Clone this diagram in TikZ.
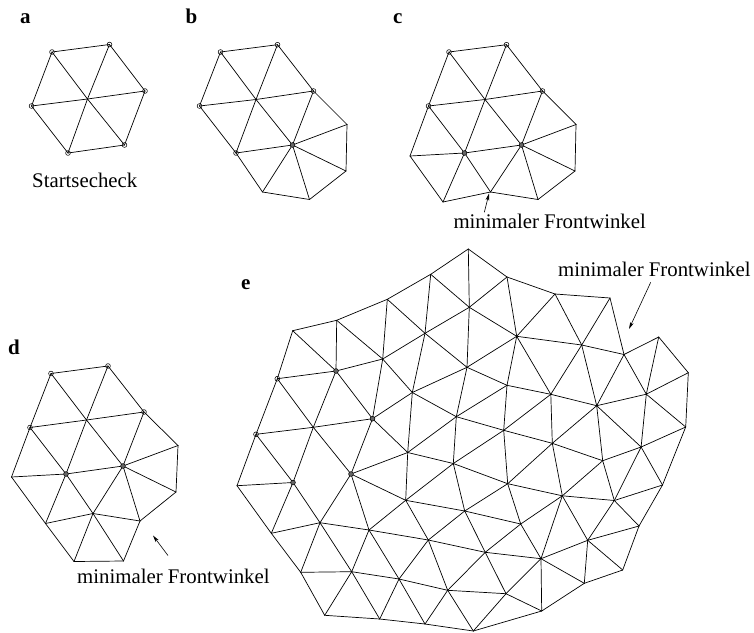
\documentclass[tikz,border=0pt]{standalone}
\usepackage{fontspec}
\setmainfont{Liberation Serif}
\usetikzlibrary{arrows.meta}
\tikzset{
  edgeline/.style={draw=black,line width=0.7pt,line cap=round,line join=round},
  openmark/.style={circle,draw=black,line width=0.55pt,inner sep=0pt,minimum size=4.8pt},
  darkmark/.style={circle,draw=black,fill=black!60,line width=0.55pt,inner sep=0pt,minimum size=4.8pt},
  caption/.style={anchor=base west,inner sep=0pt,font=\fontsize{20.8}{22}\selectfont},
  panellabel/.style={anchor=base west,inner sep=0pt,font=\fontsize{21}{22}\selectfont\bfseries},
  pointer/.style={draw=black,line width=0.6pt,-{Stealth[length=7pt,width=3.6pt,inset=2pt]}}
}
\begin{document}
\begin{tikzpicture}[x=1pt,y=-1pt]
\useasboundingbox (0,0) rectangle (754,632);
% ---------- panel a
\foreach \n/\x/\y in {TL/52/52,TR/109.5/44.5,R/145/91,BR/124.5/145,BL/68/153,L/31.5/106,c/87.5/99}
  \coordinate (a\n) at (\x,\y);
\foreach \p/\q in {TL/TR,TR/R,R/BR,BR/BL,BL/L,L/TL,TL/c,TR/c,R/c,BR/c,BL/c,L/c}
  \draw[edgeline] (a\p) -- (a\q);
\foreach \n in {TL,TR,R,BR,BL,L} \node[openmark] (am\n) at (a\n) {};
\node[caption] (acap) at (32,187.5) {Startsecheck};
\node[panellabel] (alab) at (20,23.5) {a};
% ---------- panel b
\foreach \n/\x/\y in {TL/220.5/52,TR/277.5/44.7,R/313.5/91,c/256/99.5,L/199.5/106,BL/236/153,P/292.5/145,Q/347/124.5,S/346/171,T/309.5/199.5,U/262.5/192}
  \coordinate (b\n) at (\x,\y);
\foreach \p/\q in {TL/TR,TR/R,TL/L,L/BL,TL/c,c/P,TR/c,c/BL,L/c,c/R,BL/P,R/P,R/Q,Q/P,Q/S,S/P,S/T,T/P,T/U,U/P,U/BL}
  \draw[edgeline] (b\p) -- (b\q);
\foreach \n in {TL,TR,R,L,BL} \node[openmark] (bm\n) at (b\n) {};
\node[darkmark] (bmP) at (bP) {};
\node[panellabel] (blab) at (185.5,23.5) {b};
% ---------- panel c
\foreach \n/\x/\y in {TL/449/52,TR/506.5/44.7,R/542.5/91,c/485/99.5,L/428.5/106,BL/464.5/153,P/521.5/145,Q/576/124.5,S/575/171,T/538/199.5,U/490.5/192,V/443/202,W/410/156}
  \coordinate (c\n) at (\x,\y);
\foreach \p/\q in {TL/TR,TR/R,TL/L,TL/c,c/P,TR/c,c/BL,L/c,c/R,BL/P,R/P,R/Q,Q/P,Q/S,S/P,S/T,T/P,T/U,U/P,U/BL,U/V,V/BL,V/W,W/BL,W/L,L/BL}
  \draw[edgeline] (c\p) -- (c\q);
\foreach \n in {TL,TR,R,L} \node[openmark] (cm\n) at (c\n) {};
\foreach \n in {BL,P} \node[darkmark] (cm\n) at (c\n) {};
\coordinate (cfrom) at (484.3,212.3);
\coordinate (cto) at (489,193.5);
\draw[pointer] (cfrom) -- (cto);
\node[caption] (ccap) at (453.3,228.4) {minimaler Frontwinkel};
\node[panellabel] (clab) at (393,23.5) {c};
% ---------- panel d
\foreach \n/\x/\y in {TL/51/373.5,TR/108/366,R/144/412,c/86.5/420,L/30/427.5,BL/66/474,P/123/466,Q/178/445.5,S/176/492,T/140/521,U/93/513.5,V/45.5/523.5,W/11.5/477,X/74/561.5,Y/123.5/561}
  \coordinate (d\n) at (\x,\y);
\foreach \p/\q in {TL/TR,TR/R,TL/L,TL/c,c/P,TR/c,c/BL,L/c,c/R,BL/P,R/P,R/Q,Q/P,Q/S,S/P,S/T,T/P,T/U,U/P,U/BL,U/V,V/BL,V/W,W/BL,W/L,L/BL,U/X,U/Y,V/X,X/Y,Y/T}
  \draw[edgeline] (d\p) -- (d\q);
\foreach \n in {TL,TR,R,L} \node[openmark] (dm\n) at (d\n) {};
\foreach \n in {BL,P} \node[darkmark] (dm\n) at (d\n) {};
\coordinate (dfrom) at (168,555.5);
\coordinate (dto) at (153,535.5);
\draw[pointer] (dfrom) -- (dto);
\node[caption] (dcap) at (77,583) {minimaler Frontwinkel};
\node[panellabel] (dlab) at (8,354) {d};
% ---------- panel e
\foreach \n/\x/\y in {
 E1/292.7/330.7,E2/336.7/320.3,E3/387.3/299.3,E4/430.7/274.3,E5/468.3/249,E6/507/277,E7/555/294,E8/610/298,
 E9/624/354.5,E10/658.7/337,E11/688.3/372.7,E12/685.7/427,E13/662.5/485,E14/639/526,E15/622.7/570,E16/584.3/583.3,
 E17/541.7/611,E18/473.3/631,E19/425/624,E20/379.7/619,E21/324.7/615.3,X/300.7/572.3,V/271.3/533.3,W/237/485.7,
 L/256/434.3,TL/277.3/378.7,TR/336/371,R/372.5/418.7,c/313.3/427.3,BL/293/482.5,P/351/474,
 N1/382.7/359,N2/425/333.3,N3/469.3/307.3,N4/412.3/392.5,N5/467/367.3,N6/456.3/416.7,N7/507/385.3,N8/503.7/430.3,
 N9/407.7/452.5,N10/453.3/463.5,N11/507.7/483.7,N12/405.7/500.3,N13/516.7/336.3,N14/581.7/345,N15/550.8/394.3,
 N16/596.7/405.7,N17/646.3/394.2,N18/552.3/443.3,N19/641.1/447,N20/602.7/460.7,N21/562.3/495.8,N22/614.3/500.5,
 N23/520.7/524,N24/587.7/540.3,N25/541/558.7,N26/485.2/552.3,N27/506/593.7,N28/464.7/511,U/320/522.7,N30/369/530,
 N31/428.3/540,N32/351.7/571.7,N33/399/579,N34/447.7/590.3}
  \coordinate (e\n) at (\x,\y);
\foreach \p/\q in {
 E1/E2,E2/E3,E3/E4,E4/E5,E5/E6,E6/E7,E7/E8,E8/E9,E9/E10,E10/E11,E11/E12,E12/E13,E13/E14,E14/E15,E15/E16,E16/E17,E17/E18,E18/E19,E19/E20,E20/E21,E21/X,X/V,V/W,W/L,L/TL,TL/E1,
 E1/TR,E2/TR,E2/N1,E3/N1,E3/N2,E4/N2,E4/N3,E5/N3,N3/E6,N1/N2,N2/N3,TL/TR,TR/N1,N1/R,N1/N4,N2/N4,N2/N5,N3/N5,N3/N13,R/N4,N4/N5,N4/N6,N5/N6,N5/N7,N6/N7,
 TR/c,TR/R,TL/c,c/R,c/L,c/BL,c/P,L/BL,R/P,W/BL,
 N4/N9,R/N9,N9/N6,N6/N10,N9/N10,N9/P,P/N12,N9/N12,N10/N12,N6/N8,N7/N8,N8/N10,N10/N11,N8/N11,N8/N18,N7/N15,N8/N15,N11/N18,N11/N21,N11/N23,N10/N28,P/U,P/N30,N7/N13,N5/N13,N13/N15,
 N13/E6,N13/E7,E7/N14,E8/N14,N13/N14,N14/E9,N14/N15,N14/N16,E9/N16,E9/N17,E10/N17,E11/N17,N17/N16,N15/N16,N15/N18,N16/N18,N16/N19,N16/N20,N17/N19,N17/E12,
 N19/E12,N19/N20,N18/N20,N20/N21,N18/N21,N20/N22,N19/N22,N19/E13,N22/E13,N21/N22,
 N21/N23,N21/N25,N23/N25,N21/N24,N22/N24,N22/E14,N24/E14,N24/N25,N24/E16,N24/E15,N25/E16,N25/E17,N25/N26,N25/N27,N26/N27,N27/E17,N27/N34,N27/E18,N23/N26,N28/N23,N11/N28,N28/N26,
 N12/N28,N28/N31,N12/N30,N12/N31,BL/U,BL/V,V/U,U/N30,N30/N31,N31/N26,U/X,U/N32,X/N32,N30/N32,N30/N33,N31/N33,N31/N34,N26/N34,N32/N33,N33/N34,N32/E21,N32/E20,N33/E20,N33/E19,N34/E19,N34/E18}
  \draw[edgeline] (e\p) -- (e\q);
\foreach \n in {TL,L} \node[openmark] (em\n) at (e\n) {};
\foreach \n in {TR,R,BL,P} \node[darkmark] (em\n) at (e\n) {};
\coordinate (efrom) at (650.7,282.3);
\coordinate (eto) at (629,329);
\draw[pointer] (efrom) -- (eto);
\node[caption] (ecap) at (558,276) {minimaler Frontwinkel};
\node[panellabel] (elab) at (241,289) {e};
\end{tikzpicture}
\end{document}
